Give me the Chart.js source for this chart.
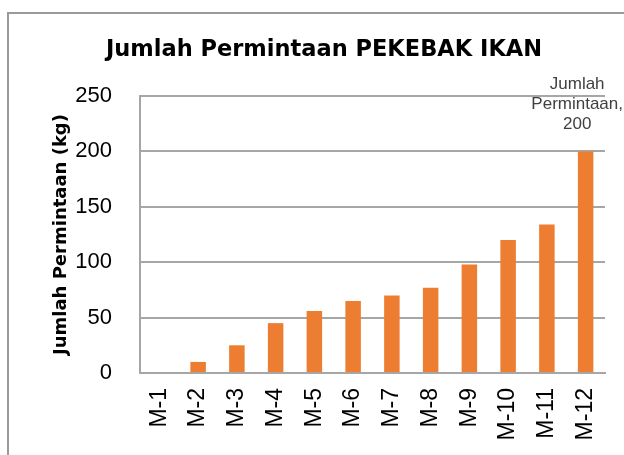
<!DOCTYPE html>
<html>
<head>
<meta charset="utf-8">
<script src="https://cdn.jsdelivr.net/npm/chart.js@4"></script>
<style>
    html, body { margin: 0; padding: 0; background: #ffffff; }
    #wrap { width: 624px; height: 455px; position: relative; }
</style>
</head>
<body>
<div id="wrap"><canvas id="demandChart" width="624" height="455"></canvas></div>
<script>
// Chart data
const months = ['M-1', 'M-2', 'M-3', 'M-4', 'M-5', 'M-6', 'M-7', 'M-8', 'M-9', 'M-10', 'M-11', 'M-12'];
const demandKg = [0, 10, 25, 45, 56, 65, 70, 77, 98, 120, 134, 200];
const seriesName = 'Jumlah Permintaan';
const chartTitle = 'Jumlah Permintaan PEKEBAK IKAN';
const yAxisTitle = 'Jumlah Permintaan (kg)';
const labelledIndex = 11; // only the last bar carries a data label

const gridColor = '#a6a6a6';
const textColor = '#404040';
const textFont = '"Liberation Sans", Arial, sans-serif';
const boldFont = '"DejaVu Sans", Arial, sans-serif';

// Frame, title and the single data label
const decorPlugin = {
    id: 'decor',
    afterDraw(chart) {
        const ctx = chart.ctx;
        ctx.save();

        // outer frame (cut off on the right and bottom)
        ctx.strokeStyle = '#9a9a9a';
        ctx.lineWidth = 2;
        ctx.beginPath();
        ctx.moveTo(8, chart.height);
        ctx.lineTo(8, 13);
        ctx.lineTo(chart.width, 13);
        ctx.stroke();

        // title
        ctx.fillStyle = '#000000';
        ctx.font = 'bold 22.5px ' + boldFont;
        ctx.textAlign = 'center';
        ctx.textBaseline = 'middle';
        ctx.fillText(chartTitle, chart.width / 2 + 12, 50);

        // data label on last bar, series name + value
        const bar = chart.getDatasetMeta(0).data[labelledIndex];
        const lines = ['Jumlah', 'Permintaan,', String(demandKg[labelledIndex])];
        ctx.font = '17px ' + textFont;
        ctx.fillStyle = textColor;
        const maxW = Math.max(...lines.map(l => ctx.measureText(l).width));
        const x = Math.min(bar.x, chart.width - maxW / 2 - 1);
        lines.forEach((line, i) => {
            ctx.fillText(line, x, bar.y - 27 - (lines.length - 1 - i) * 20);
        });
        ctx.restore();
    }
};

new Chart(document.getElementById('demandChart'), {
    type: 'bar',
    data: {
        labels: months,
        datasets: [{
            label: seriesName,
            data: demandKg,
            backgroundColor: '#ed7d31',
            borderWidth: 0,
            categoryPercentage: 1,
            barPercentage: 0.4
        }]
    },
    options: {
        responsive: false,
        animation: false,
        events: [],
        layout: { padding: { top: 96, right: 19, left: 0, bottom: 0 } },
        plugins: {
            legend: { display: false },
            tooltip: { enabled: false },
            title: { display: false }
        },
        scales: {
            x: {
                grid: { display: false, drawTicks: false },
                border: { color: gridColor, width: 2 },
                ticks: {
                    color: '#000000',
                    font: { family: textFont, size: 23 },
                    maxRotation: 90,
                    minRotation: 90,
                    padding: 15,
                    autoSkip: false
                },
                afterFit(scale) {
                    scale.height = 82;
                    // keep the rotated end labels from pushing the plot area in
                    scale.paddingLeft = 0;
                    scale.paddingRight = 0;
                }
            },
            y: {
                min: 0,
                max: 250,
                grid: { color: gridColor, lineWidth: 2, drawTicks: false },
                border: { color: gridColor, width: 2 },
                ticks: {
                    stepSize: 50,
                    color: '#000000',
                    font: { family: textFont, size: 22 },
                    padding: 28
                },
                title: {
                    display: true,
                    text: yAxisTitle,
                    color: '#000000',
                    font: { family: boldFont, size: 18, weight: 'bold' },
                    padding: { top: 51, bottom: 0 }
                },
                afterFit(scale) { scale.width = 140; }
            }
        }
    },
    plugins: [decorPlugin]
});
</script>
</body>
</html>
